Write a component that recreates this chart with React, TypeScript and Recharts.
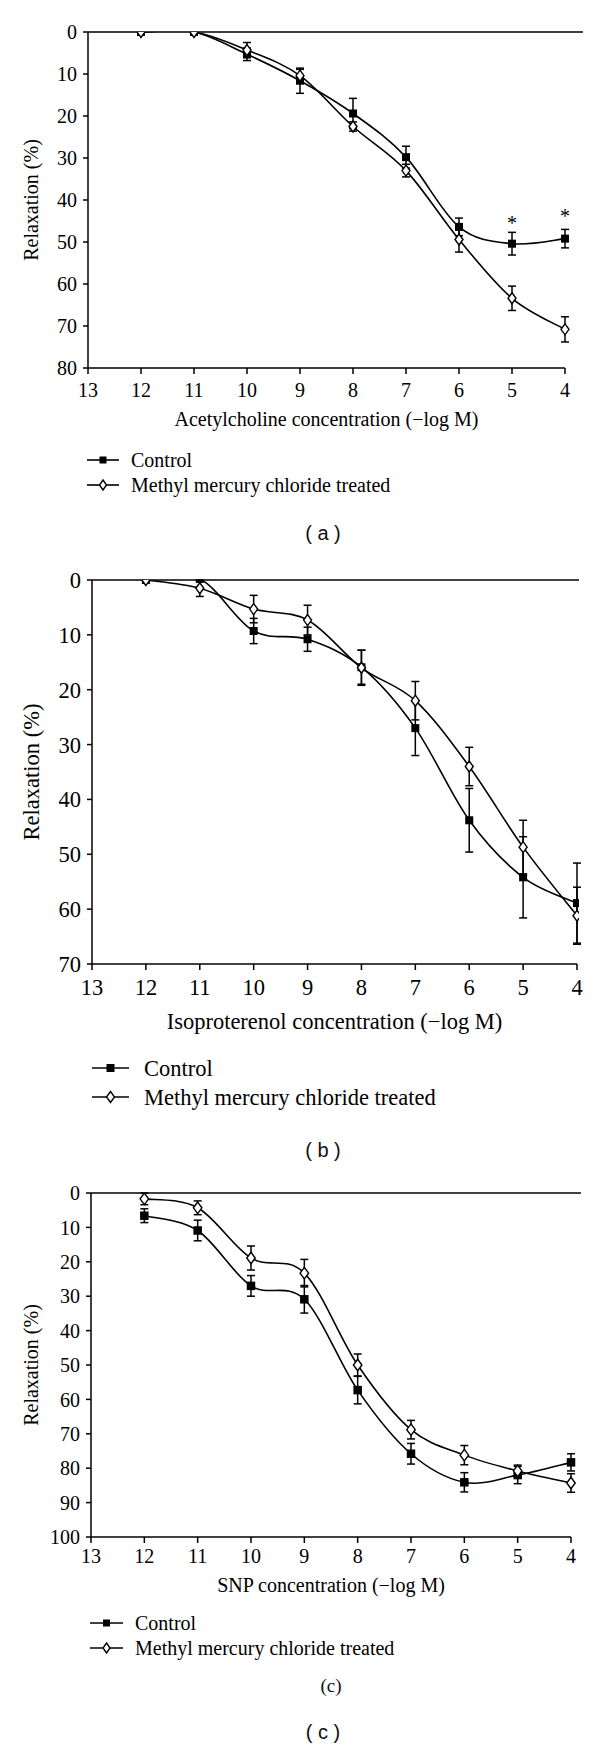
import React from 'react';
import { LineChart, Line, XAxis, YAxis, ErrorBar, ReferenceLine, ReferenceDot, Label } from 'recharts';

// ---------- data ----------
const xValues = [12, 11, 10, 9, 8, 7, 6, 5, 4];
const xTicks = [13, 12, 11, 10, 9, 8, 7, 6, 5, 4];
const seriesNames = ['Control', 'Methyl mercury chloride treated'];

const achControl = [0, 0, 5.3, 11.6, 19.4, 29.8, 46.4, 50.4, 49.2];
const achControlErr = [0, 0, 1.5, 3.0, 3.6, 2.6, 2.1, 2.7, 2.2];
const achTreated = [0, 0, 4.3, 10.4, 22.5, 33.0, 49.4, 63.4, 70.8];
const achTreatedErr = [0, 0, 1.8, 1.5, 1.1, 1.5, 3.0, 2.9, 3.0];
const achStarX = [5, 4];
const achStarY = [44.8, 43.2];
const achYTicks = [0, 10, 20, 30, 40, 50, 60, 70, 80];

const isoControl = [0, -0.2, 9.3, 10.8, 15.9, 27.0, 43.8, 54.2, 58.9];
const isoControlErr = [0, 0, 2.3, 2.2, 3.1, 5.0, 5.8, 7.4, 7.3];
const isoTreated = [0, 1.5, 5.3, 7.3, 16.0, 22.0, 34.0, 48.7, 61.2];
const isoTreatedErr = [0, 1.5, 2.5, 2.7, 3.2, 3.5, 3.5, 4.9, 5.2];
const isoYTicks = [0, 10, 20, 30, 40, 50, 60, 70];

const snpControl = [6.6, 10.9, 27.0, 30.9, 57.3, 75.8, 84.1, 82.0, 78.3];
const snpControlErr = [2.0, 3.0, 3.0, 4.0, 4.0, 3.0, 2.8, 2.5, 2.5];
const snpTreated = [1.7, 4.3, 18.9, 23.3, 50.0, 68.8, 76.2, 80.8, 84.3];
const snpTreatedErr = [1.7, 2.0, 3.5, 4.0, 3.2, 2.7, 2.8, 1.7, 2.7];
const snpYTicks = [0, 10, 20, 30, 40, 50, 60, 70, 80, 90, 100];

const SERIF = '"Liberation Serif", "Times New Roman", serif';
const SANS = '"Liberation Sans", Arial, sans-serif';

// Excel-like smoothed line (Catmull-Rom style bezier)
const excelSmooth: any = (context: any) => {
  let pts: number[][] = [];
  return {
    areaStart() {},
    areaEnd() {},
    lineStart() {
      pts = [];
    },
    point(x: number, y: number) {
      pts.push([+x, +y]);
    },
    lineEnd() {
      const n = pts.length;
      if (!n) return;
      context.moveTo(pts[0][0], pts[0][1]);
      const t = 1 / 6;
      for (let i = 0; i < n - 1; i++) {
        const p0 = pts[i - 1] || pts[i];
        const p1 = pts[i];
        const p2 = pts[i + 1];
        const p3 = pts[i + 2] || p2;
        context.bezierCurveTo(
          p1[0] + (p2[0] - p0[0]) * t,
          p1[1] + (p2[1] - p0[1]) * t,
          p2[0] - (p3[0] - p1[0]) * t,
          p2[1] - (p3[1] - p1[1]) * t,
          p2[0],
          p2[1]
        );
      }
    },
  };
};

const squareDot = (size: number) => (p: any) => (
  <rect key={`sq-${p.index}`} x={p.cx - size / 2} y={p.cy - size / 2} width={size} height={size} fill="#000" />
);
const diamondDot = (w: number, h: number) => (p: any) => (
  <polygon
    key={`dm-${p.index}`}
    points={`${p.cx},${p.cy - h / 2} ${p.cx + w / 2},${p.cy} ${p.cx},${p.cy + h / 2} ${p.cx - w / 2},${p.cy}`}
    fill="#fff"
    stroke="#000"
    strokeWidth={1.4}
  />
);

type Spec = {
  control: number[];
  controlErr: number[];
  treated: number[];
  treatedErr: number[];
  yTicks: number[];
  yMax: number;
  plotTop: number;
  plotBottom: number;
  axisX: number;
  x4: number;
  lineEnd: number;
  fontSize: number;
  tickMargin: number;
  titleOffset: number;
  title: string;
  starX?: number[];
  starY?: number[];
  marker: number;
};

function Panel({ spec }: { spec: Spec }) {
  const data = xValues.map((x, i) => ({
    x,
    c: spec.control[i],
    ce: spec.controlErr[i],
    t: spec.treated[i],
    te: spec.treatedErr[i],
  }));
  const ext = (9 * (spec.lineEnd - spec.x4)) / (spec.x4 - spec.axisX);
  const marginTop = 20;
  const plotH = spec.plotBottom - spec.plotTop;
  const axisH = 75;
  const height = marginTop + plotH + axisH + 10;
  const fs = spec.fontSize;
  const tickStyle = { fill: '#000', fontSize: fs, fontFamily: SERIF };
  const titleX = (spec.axisX + spec.x4) / 2;
  const yCenter = marginTop + plotH / 2;
  return (
    <div style={{ position: 'absolute', left: 0, top: spec.plotTop - marginTop }}>
      <LineChart
        width={600}
        height={height}
        data={data}
        margin={{ top: marginTop, right: 600 - spec.lineEnd, bottom: 10, left: 0 }}
      >
        <XAxis
          type="number"
          dataKey="x"
          domain={[4 - ext, 13]}
          reversed
          ticks={xTicks}
          interval={0}
          allowDataOverflow
          axisLine={false}
          tickLine={{ stroke: '#000', strokeWidth: 1.5 }}
          tickSize={6}
          tickMargin={spec.tickMargin}
          height={axisH}
          tick={tickStyle}
        >
          <Label
            content={(p: any) => (
              <text
                x={titleX}
                y={p.viewBox.y + spec.titleOffset}
                textAnchor="middle"
                fontSize={fs}
                fontFamily={SERIF}
                fill="#000"
              >
                {spec.title}
              </text>
            )}
          />
        </XAxis>
        <YAxis
          type="number"
          domain={[0, spec.yMax]}
          reversed
          ticks={spec.yTicks}
          interval={0}
          allowDataOverflow
          width={spec.axisX}
          axisLine={{ stroke: '#000', strokeWidth: 1.5 }}
          tickLine={{ stroke: '#000', strokeWidth: 1.5 }}
          tickSize={5}
          tickMargin={6}
          tick={tickStyle}
        >
          <Label
            content={() => (
              <text
                x={31}
                y={yCenter}
                transform={`rotate(-90, 31, ${yCenter})`}
                textAnchor="middle"
                dominantBaseline="central"
                fontSize={fs}
                fontFamily={SERIF}
                fill="#000"
              >
                Relaxation (%)
              </text>
            )}
          />
        </YAxis>
        <ReferenceLine y={0} stroke="#000" strokeWidth={1.6} />
        <ReferenceLine
          segment={[
            { x: 13, y: spec.yMax },
            { x: 4, y: spec.yMax },
          ]}
          stroke="#000"
          strokeWidth={1.6}
        />
        <Line
          dataKey="c"
          type={excelSmooth}
          stroke="#000"
          strokeWidth={1.6}
          dot={squareDot(spec.marker)}
          activeDot={false}
          isAnimationActive={false}
        >
          <ErrorBar dataKey="ce" width={4} stroke="#000" strokeWidth={1.5} direction="y" />
        </Line>
        <Line
          dataKey="t"
          type={excelSmooth}
          stroke="#000"
          strokeWidth={1.6}
          dot={diamondDot(spec.marker, spec.marker + 3)}
          activeDot={false}
          isAnimationActive={false}
        >
          <ErrorBar dataKey="te" width={4} stroke="#000" strokeWidth={1.5} direction="y" />
        </Line>
        {(spec.starX || []).map((sx, i) => (
          <ReferenceDot
            key={`star-${i}`}
            x={sx}
            y={(spec.starY || [])[i]}
            r={0}
            shape={(p: any) => (
              <text x={p.cx} y={p.cy + 10} textAnchor="middle" fontSize={fs} fontFamily={SERIF} fill="#000">
                *
              </text>
            )}
          />
        ))}
      </LineChart>
    </div>
  );
}

function LegendBlock({ top, gap, lineX0, lineX1, textX, fontSize, marker }: any) {
  const cx = (lineX0 + lineX1) / 2;
  return (
    <svg
      style={{ position: 'absolute', left: 0, top: top - 15 }}
      width={600}
      height={gap + 30}
    >
      {seriesNames.map((name, i) => {
        const y = 15 + i * gap;
        return (
          <g key={name}>
            <line x1={lineX0} x2={lineX1} y1={y} y2={y} stroke="#000" strokeWidth={1.6} />
            {i === 0 ? (
              <rect x={cx - marker / 2} y={y - marker / 2} width={marker} height={marker} fill="#000" />
            ) : (
              <polygon
                points={`${cx},${y - (marker + 3) / 2} ${cx + marker / 2},${y} ${cx},${y + (marker + 3) / 2} ${cx - marker / 2},${y}`}
                fill="#fff"
                stroke="#000"
                strokeWidth={1.4}
              />
            )}
            <text x={textX} y={y} dominantBaseline="central" fontSize={fontSize} fontFamily={SERIF} fill="#000">
              {name}
            </text>
          </g>
        );
      })}
    </svg>
  );
}

function PanelLabel({ x, y, text, font, size }: any) {
  return (
    <svg style={{ position: 'absolute', left: 0, top: y - 20 }} width={600} height={40}>
      <text x={x} y={20} textAnchor="middle" dominantBaseline="central" fontSize={size} fontFamily={font} fill="#111">
        {text}
      </text>
    </svg>
  );
}

const specA: Spec = {
  control: achControl,
  controlErr: achControlErr,
  treated: achTreated,
  treatedErr: achTreatedErr,
  yTicks: achYTicks,
  yMax: 80,
  plotTop: 32,
  plotBottom: 368,
  axisX: 88,
  x4: 565,
  lineEnd: 583,
  fontSize: 20,
  tickMargin: 9,
  titleOffset: 58,
  title: 'Acetylcholine concentration (\u2212log M)',
  starX: achStarX,
  starY: achStarY,
  marker: 8,
};

const specB: Spec = {
  control: isoControl,
  controlErr: isoControlErr,
  treated: isoTreated,
  treatedErr: isoTreatedErr,
  yTicks: isoYTicks,
  yMax: 70,
  plotTop: 580,
  plotBottom: 964,
  axisX: 92,
  x4: 577,
  lineEnd: 579,
  fontSize: 22.5,
  tickMargin: 9,
  titleOffset: 65,
  title: 'Isoproterenol concentration (\u2212log M)',
  marker: 8,
};

const specC: Spec = {
  control: snpControl,
  controlErr: snpControlErr,
  treated: snpTreated,
  treatedErr: snpTreatedErr,
  yTicks: snpYTicks,
  yMax: 100,
  plotTop: 1193,
  plotBottom: 1537,
  axisX: 91,
  x4: 571,
  lineEnd: 581,
  fontSize: 20,
  tickMargin: 6,
  titleOffset: 55,
  title: 'SNP concentration (\u2212log M)',
  marker: 8.5,
};

export default function App() {
  return (
    <div style={{ position: 'absolute', left: 0, top: 0, width: 600, height: 1748, background: '#fff', overflow: 'hidden' }}>
      <Panel spec={specA} />
      <LegendBlock top={460} gap={25} lineX0={87} lineX1={119} textX={131} fontSize={20} marker={7} />
      <PanelLabel x={323} y={533} text="( a )" font={SANS} size={20} />

      <Panel spec={specB} />
      <LegendBlock top={1068} gap={29} lineX0={92} lineX1={129} textX={144} fontSize={22.5} marker={8} />
      <PanelLabel x={323} y={1150} text="( b )" font={SANS} size={20} />

      <Panel spec={specC} />
      <LegendBlock top={1623} gap={25} lineX0={90} lineX1={123} textX={135} fontSize={20} marker={7} />
      <PanelLabel x={331} y={1685} text="(c)" font={SERIF} size={19} />
      <PanelLabel x={323} y={1732} text="( c )" font={SANS} size={20} />
    </div>
  );
}
